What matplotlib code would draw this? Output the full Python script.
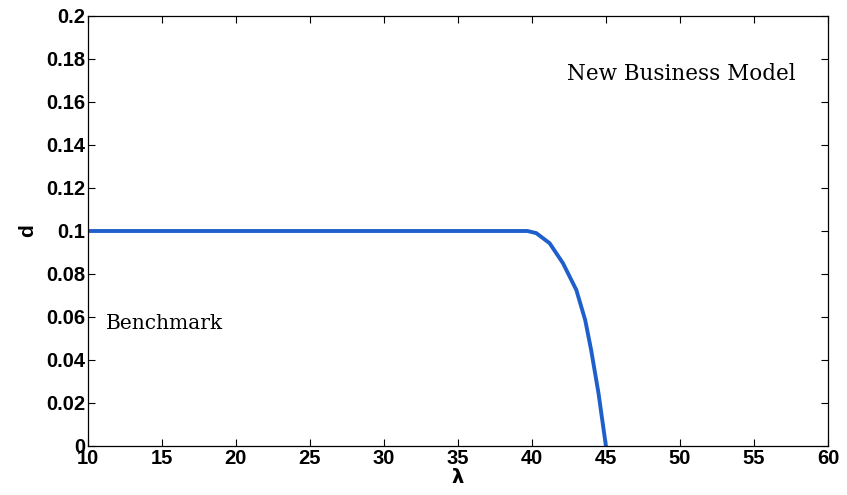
import matplotlib
matplotlib.use('Agg')
import matplotlib.pyplot as plt

# boundary curve: d as a function of lambda
lam = [10, 39.7, 40.3, 41.2, 42.1, 43.0, 43.6, 44.0, 44.5, 45.0]
d = [0.1, 0.1, 0.099, 0.0943, 0.085, 0.0726, 0.0586, 0.0447, 0.0245, 0.0]

x_ticks = [10, 15, 20, 25, 30, 35, 40, 45, 50, 55, 60]
y_ticks = [0, 0.02, 0.04, 0.06, 0.08, 0.1, 0.12, 0.14, 0.16, 0.18, 0.2]
y_tick_labels = ['0', '0.02', '0.04', '0.06', '0.08', '0.1', '0.12', '0.14', '0.16', '0.18', '0.2']

fig = plt.figure(figsize=(8.47, 4.95), dpi=100)
ax = fig.add_axes([0.1035, 0.099, 0.8741, 0.8687])

ax.plot(lam, d, color='#1f5fcc', linewidth=2.8, solid_joinstyle='round')

ax.set_xlim(10, 60)
ax.set_ylim(0, 0.2)
ax.set_xticks(x_ticks)
ax.set_yticks(y_ticks)
ax.set_yticklabels(y_tick_labels)

ax.tick_params(direction='in', top=True, right=True, length=5, width=0.8, pad=2)
for lbl in ax.get_xticklabels() + ax.get_yticklabels():
    lbl.set_fontfamily('Liberation Sans')
    lbl.set_fontweight('bold')
    lbl.set_fontsize(14.5)
for s in ax.spines.values():
    s.set_linewidth(0.9)

ax.set_xlabel('λ', fontsize=14, fontweight='bold', family='DejaVu Sans', labelpad=0)
ax.set_ylabel('d', fontsize=15, fontweight='bold', family='Liberation Sans', labelpad=6)

ax.text(42.4, 0.173, 'New Business Model', fontsize=15.5, family='DejaVu Serif', va='center')
ax.text(11.2, 0.057, 'Benchmark', fontsize=14.5, family='DejaVu Serif', va='center')

fig.savefig('out.png', dpi=100)
